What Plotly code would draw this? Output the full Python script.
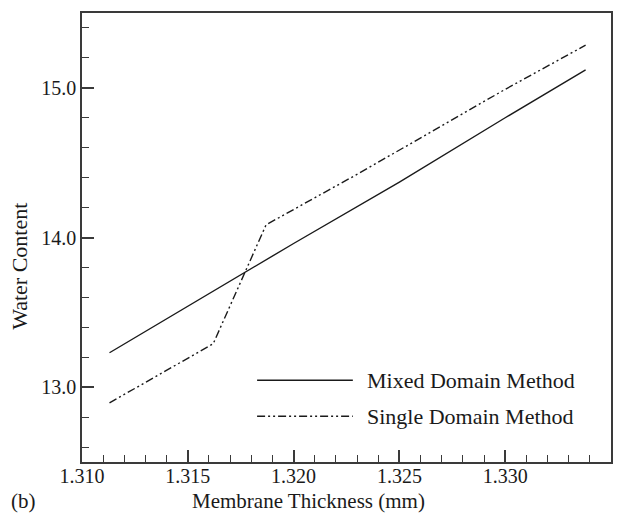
import plotly.graph_objects as go

# Membrane thickness (mm) and water content for the two solution methods
mixed_x = [1.3113, 1.3150, 1.3200, 1.3250, 1.3300, 1.3338]
mixed_y = [13.23, 13.54, 13.96, 14.37, 14.80, 15.12]

single_x = [1.3113, 1.3162, 1.3187, 1.3231, 1.3300, 1.3338]
single_y = [12.895, 13.29, 14.085, 14.43, 14.99, 15.285]

series_names = ["Mixed Domain Method", "Single Domain Method"]
x_title = "Membrane Thickness (mm)"
y_title = "Water Content"
panel_label = "(b)"

FONT = "Liberation Serif, Times New Roman, serif"
INK = "#1a1a1a"
FRAME = "#3a3a3a"
SINGLE_DASH = "8px,3px,2px,3px,2px,3px"

fig = go.Figure()
fig.add_trace(go.Scatter(x=mixed_x, y=mixed_y, mode="lines",
                         line=dict(color=INK, width=1.4),
                         name=series_names[0], showlegend=False))
fig.add_trace(go.Scatter(x=single_x, y=single_y, mode="lines",
                         line=dict(color=INK, width=1.4, dash=SINGLE_DASH),
                         name=series_names[1], showlegend=False))

axis_common = dict(showgrid=False, zeroline=False, showline=True, linecolor=FRAME,
                   linewidth=1.6, mirror=True, ticks="inside", ticklen=12,
                   tickwidth=1.5, tickcolor=FRAME,
                   tickfont=dict(family=FONT, size=20, color=INK))

fig.update_xaxes(range=[1.310, 1.335], tick0=1.310, dtick=0.005, tickformat=".3f",
                 ticklabelstandoff=-5,
                 minor=dict(ticks="inside", dtick=0.001, ticklen=7,
                            tickwidth=1.3, tickcolor=FRAME),
                 **axis_common)
fig.update_yaxes(range=[12.5, 15.5], tick0=13.0, dtick=1.0, tickformat=".1f",
                 minor=dict(ticks="inside", dtick=0.2, tick0=12.6, ticklen=7,
                            tickwidth=1.3, tickcolor=FRAME),
                 **axis_common)

# In-plot legend with long line samples
legend_rows = [(0.182, None), (0.102, SINGLE_DASH)]
for name, (ly, dash) in zip(series_names, legend_rows):
    line = dict(color=INK, width=1.4)
    if dash:
        line["dash"] = dash
    fig.add_shape(type="line", xref="paper", yref="paper",
                  x0=0.331, x1=0.512, y0=ly, y1=ly, line=line)
    fig.add_annotation(text=name, xref="paper", yref="paper", x=0.535, y=ly,
                       xanchor="left", yanchor="middle", showarrow=False,
                       font=dict(family=FONT, size=22, color=INK))

fig.add_annotation(text=x_title, xref="paper", yref="paper", x=0.429, y=-0.0876,
                   xanchor="center", yanchor="middle", showarrow=False,
                   font=dict(family=FONT, size=21, color=INK))
fig.add_annotation(text=y_title, xref="paper", yref="paper", x=-0.117, y=0.435,
                   xanchor="center", yanchor="middle", textangle=-90, showarrow=False,
                   font=dict(family=FONT, size=22, color=INK))
fig.add_annotation(text=panel_label, xref="paper", yref="paper", x=-0.110, y=-0.0876,
                   xanchor="center", yanchor="middle", showarrow=False,
                   font=dict(family=FONT, size=21, color=INK))

fig.update_layout(width=629, height=515, margin=dict(l=82, r=18, t=11, b=53),
                  paper_bgcolor="white", plot_bgcolor="white", showlegend=False)

fig.write_html("out.html")
